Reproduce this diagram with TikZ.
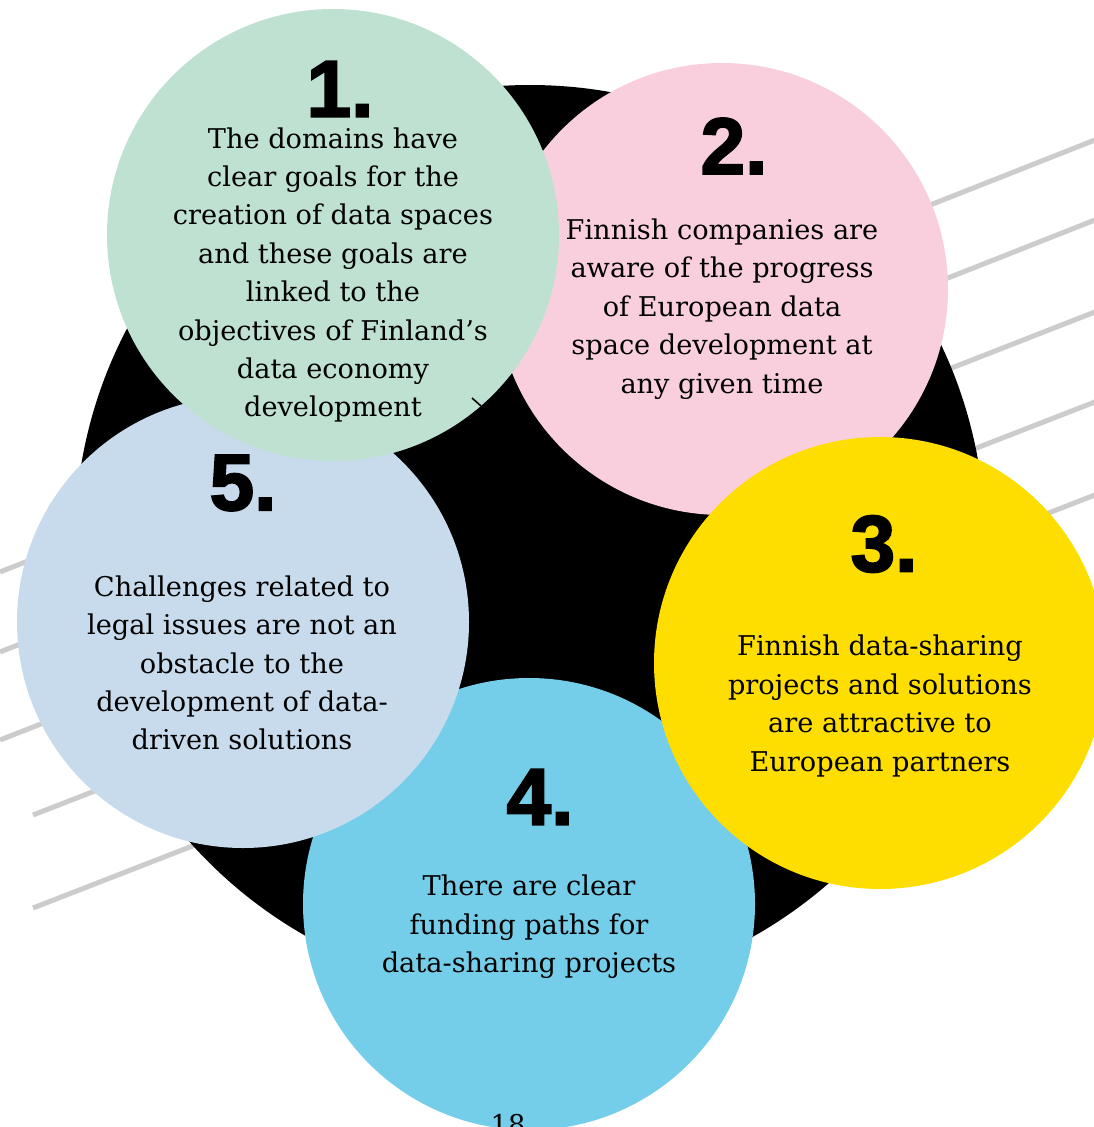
\documentclass[tikz,border=0pt]{standalone}
\usepackage{fontspec}
\setmainfont{DejaVu Serif}
\newfontfamily\numfont[BoldFont={Liberation Sans Bold},BoldFeatures={FakeBold=2.5}]{Liberation Sans}
\definecolor{cgreen}{HTML}{BFE1D1}
\definecolor{cpink}{HTML}{F9CFDD}
\definecolor{cyellow}{HTML}{FEDD00}
\definecolor{cblue}{HTML}{74CEE9}
\definecolor{clblue}{HTML}{C8DBEC}
\definecolor{cgray}{HTML}{CCCCCC}
\tikzset{
  disc/.style={circle,inner sep=0pt,outer sep=0pt,draw=none,minimum size=339pt},
  txt/.style={align=center,inner sep=0pt,font=\fontsize{20.4}{28.8}\selectfont},
  num/.style={inner sep=0pt,font=\numfont\bfseries\fontsize{60}{60}\selectfont},
  stripe/.style={cgray,line width=3.75pt}
}
\begin{document}
\begin{tikzpicture}[x=0.75pt,y=-0.75pt]
\useasboundingbox (0,0) rectangle (1094,1127);
\clip (0,0) rectangle (1094,1127);
% stripes
\draw[stripe] (0,572) -- (1100,138);
\draw[stripe] (0,652) -- (1100,218);
\draw[stripe] (0,740) -- (1100,310);
\draw[stripe] (33,815) -- (1100,400);
\draw[stripe] (33,908) -- (1100,493);
% big black disc
\node[circle,fill=black,inner sep=0pt,minimum size=682.5pt] (big) at (530,540) {};
% coloured discs
\node[disc,fill=cblue] (c4) at (529,904) {};
\node[disc,fill=cpink] (c2) at (722,289) {};
\node[disc,fill=cyellow] (c3) at (880,663) {};
\node[disc,fill=clblue] (c5) at (243,622) {};
\node[disc,fill=cgreen] (c1) at (333,235) {};
% numbers
\node[num] (n1) at (340,89) {1.};
\node[num] (n2) at (734,146) {2.};
\node[num] (n3) at (884,544) {3.};
\node[num] (n4) at (540,797) {4.};
\node[num] (n5) at (243,483) {5.};
% texts
\node[txt] (t1) at (333,275) {The domains have\\clear goals for the\\creation of data spaces\\and these goals are\\linked to the\\objectives of Finland’s\\data economy\\development};
\node[txt] (t2) at (722,309) {Finnish companies are\\aware of the progress\\of European data\\space development at\\any given time};
\node[txt] (t3) at (880,706) {Finnish data-sharing\\projects and solutions\\are attractive to\\European partners};
\node[txt] (t4) at (529,927) {There are clear\\funding paths for\\data-sharing projects};
\node[txt] (t5) at (242,663) {Challenges related to\\legal issues are not an\\obstacle to the\\development of data-\\driven solutions};
% small mark
\draw[line width=1.2pt] (472,398) -- (481,406);
% page number
\node[anchor=base,inner sep=0pt,font=\fontsize{20.4}{21}\selectfont] (pg) at (508,1134) {18};
\end{tikzpicture}
\end{document}
